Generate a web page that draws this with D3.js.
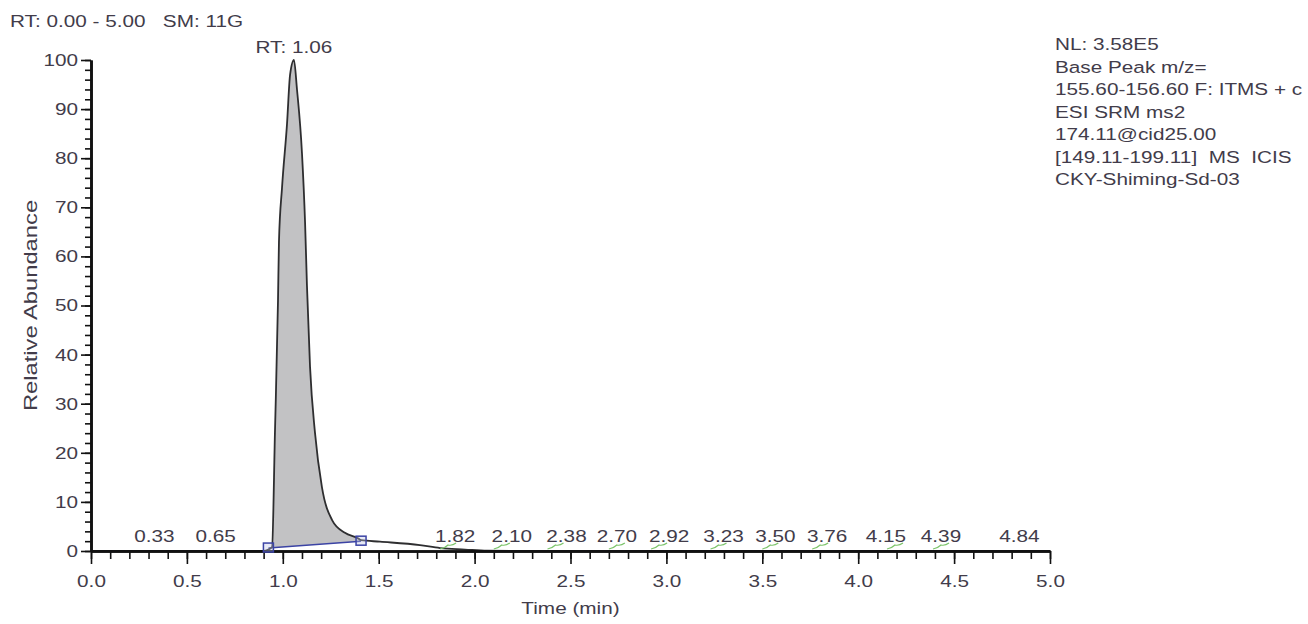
<!DOCTYPE html>
<html>
<head>
<meta charset="utf-8">
<script src="https://cdn.jsdelivr.net/npm/d3@7"></script>
<style>
  body { margin: 0; background: #fff; }
  svg text { font-family: "Liberation Sans", Arial, sans-serif; fill: #423c4a; white-space: pre; }
</style>
</head>
<body>
<svg id="chart" width="1308" height="624"></svg>
<script>
// chromatogram trace (time in min, relative abundance in %)
const rtMin = [0.00, 0.50, 0.90, 0.925, 0.944, 0.959, 0.975, 0.980, 0.996, 1.022,
  1.038, 1.058, 1.074, 1.100, 1.116, 1.126, 1.142, 1.168, 1.204, 1.257,
  1.324, 1.392, 1.408, 1.507, 1.715, 1.820, 1.950, 2.065, 2.50, 3.00,
  3.50, 4.00, 4.50, 5.00];
const relAbund = [0, 0, 0, 0.3, 0.8, 24, 51, 63, 74, 87,
  97, 100, 94, 81, 67, 54, 37.5, 24, 13, 6.3,
  3.7, 2.6, 2.2, 1.9, 1.2, 0.6, 0.3, 0.05, 0, 0,
  0, 0, 0, 0];

// integration baseline of the main peak: [time, abundance]
const baseStart = [0.925, 0.6];
const baseEnd = [1.408, 2.0];

// labelled minor peaks
const peakRT = [0.33, 0.65, 1.82, 2.10, 2.38, 2.70, 2.92, 3.23, 3.50, 3.76, 4.15, 4.39, 4.84];
const mainPeakLabel = 'RT: 1.06';
const mainPeakRT = 1.058;

const xTicks = [0, 0.5, 1, 1.5, 2, 2.5, 3, 3.5, 4, 4.5, 5];
const yTicks = [0, 10, 20, 30, 40, 50, 60, 70, 80, 90, 100];

const headerText = 'RT: 0.00 - 5.00   SM: 11G';
const infoLines = ['NL: 3.58E5', 'Base Peak m/z=', '155.60-156.60 F: ITMS + c', 'ESI SRM ms2',
  '174.11@cid25.00', '[149.11-199.11]  MS  ICIS', 'CKY-Shiming-Sd-03'];

// layout
const SX = 1.22; // text in the screenshot is stretched horizontally
const labelDx = [0, 0, 15, 18, 19, 8, 18, 13, 13, 15, -1, 8, 0];
const svg = d3.select('#chart');
const margin = { top: 60, left: 91, right: 258, bottom: 73 };
const W = 1308, H = 624;

const x = d3.scaleLinear().domain([0, 5]).range([margin.left, W - margin.right]);
const y = d3.scaleLinear().domain([0, 100]).range([H - margin.bottom, margin.top]);

function stretchText(sel, px, py, txt, size, anchor) {
  return sel.append('text')
    .attr('transform', `translate(${px},${py}) scale(${SX},1)`)
    .attr('text-anchor', anchor || 'start')
    .style('font-size', size + 'px')
    .text(txt);
}

// peak area fill between trace and baseline
const baseAt = t => baseStart[1] + (t - baseStart[0]) * (baseEnd[1] - baseStart[1]) / (baseEnd[0] - baseStart[0]);
const traceAt = t => {
  const i = d3.bisectRight(rtMin, t);
  if (i <= 0) return relAbund[0];
  if (i >= rtMin.length) return relAbund[relAbund.length - 1];
  const f = (t - rtMin[i - 1]) / (rtMin[i] - rtMin[i - 1]);
  return relAbund[i - 1] + f * (relAbund[i] - relAbund[i - 1]);
};
const fillPts = [[baseStart[0], traceAt(baseStart[0])]]
  .concat(rtMin.map((t, i) => [t, relAbund[i]]).filter(d => d[0] > baseStart[0] && d[0] < baseEnd[0]))
  .concat([[baseEnd[0], traceAt(baseEnd[0])]]);

svg.append('path')
  .datum(fillPts)
  .attr('fill', '#c2c2c4')
  .attr('d', d3.area().curve(d3.curveMonotoneX)
    .x(d => x(d[0])).y1(d => y(Math.max(d[1], baseAt(d[0])))).y0(d => y(baseAt(d[0]))));

// baseline
svg.append('line')
  .attr('x1', x(baseStart[0])).attr('y1', y(baseStart[1]))
  .attr('x2', x(baseEnd[0])).attr('y2', y(baseEnd[1]))
  .attr('stroke', '#3b43a4').attr('stroke-width', 1.6);

// trace
svg.append('path')
  .datum(rtMin.map((t, i) => [t, relAbund[i]]))
  .attr('fill', 'none')
  .attr('stroke', '#2e2e30')
  .attr('stroke-width', 1.8)
  .attr('d', d3.line().curve(d3.curveMonotoneX).x(d => x(d[0])).y(d => y(d[1])));

// small detected-peak marks
const minorPeaks = peakRT.filter(t => t > 1.5 && t < 4.8);
svg.selectAll('.pk').data(minorPeaks).enter().append('path')
  .attr('class', 'pk')
  .attr('fill', 'none')
  .attr('stroke', '#7cc46a')
  .attr('stroke-width', 1.2)
  .attr('d', t => `M${x(t)},${y(0) - 2} q5,-1 8,-4 q4,1 8,-2`);

// axes
svg.append('g').attr('transform', `translate(0,${y(0)})`)
  .call(d3.axisBottom(x).tickValues(xTicks).tickFormat(d3.format('.1f')).tickSize(13).tickSizeOuter(0).tickPadding(11));
svg.append('g').attr('transform', `translate(0,${y(0)})`)
  .call(d3.axisBottom(x).tickValues(d3.range(0, 51).map(d => d / 10)).tickFormat('').tickSize(8).tickSizeOuter(0));
svg.append('g').attr('transform', `translate(${x(0)},0)`)
  .call(d3.axisLeft(y).tickValues(yTicks).tickSize(10).tickSizeOuter(0).tickPadding(3));
svg.append('g').attr('transform', `translate(${x(0)},0)`)
  .call(d3.axisLeft(y).tickValues(d3.range(0, 101, 2)).tickFormat('').tickSize(6).tickSizeOuter(0));

svg.selectAll('.domain').attr('stroke', '#111').attr('stroke-width', 2.6);
svg.selectAll('.tick line').attr('stroke', '#111').attr('stroke-width', 1.6);
svg.selectAll('.tick text')
  .style('font-size', '17px')
  .style('font-family', '"Liberation Sans", Arial, sans-serif')
  .attr('fill', '#423c4a')
  .each(function() {
    const t = d3.select(this);
    const tx = +t.attr('x') || 0;
    t.attr('x', tx / SX).attr('transform', `scale(${SX},1)`);
  });

// markers of the integration baseline
svg.selectAll('.bm').data([baseStart, baseEnd]).enter().append('rect')
  .attr('class', 'bm')
  .attr('x', d => x(d[0]) - 5).attr('y', d => y(d[1]) - 5)
  .attr('width', 10).attr('height', 9)
  .attr('fill', 'rgba(190,195,230,0.35)')
  .attr('stroke', '#3b43a4').attr('stroke-width', 1.5);

// peak labels
peakRT.forEach((t, i) => {
  stretchText(svg, x(t) + labelDx[i], y(0) - 9, t.toFixed(2), 17, 'middle');
});
stretchText(svg, x(mainPeakRT), 53, mainPeakLabel, 17, 'middle');

// header and info block
stretchText(svg, 10, 27, headerText, 17);
infoLines.forEach((s, i) => stretchText(svg, 1055, 50 + i * 22.5, s, 17));

// axis titles
stretchText(svg, (x(0) + x(5)) / 2, 614, 'Time (min)', 17, 'middle');
svg.append('text')
  .attr('transform', `translate(37,${(y(0) + y(100)) / 2}) rotate(-90) scale(1.32,1)`)
  .attr('text-anchor', 'middle')
  .style('font-size', '18px')
  .text('Relative Abundance');
</script>
</body>
</html>
